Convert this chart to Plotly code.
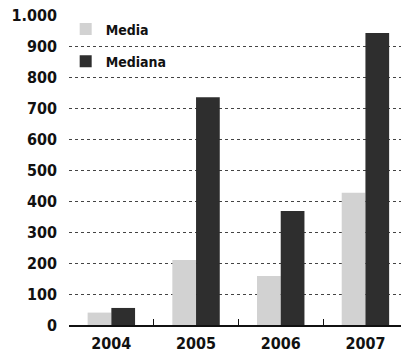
import plotly.graph_objects as go

years = ["2004", "2005", "2006", "2007"]
media = [40, 210, 158, 427]
mediana = [55, 735, 368, 942]
ytick_vals = [0, 100, 200, 300, 400, 500, 600, 700, 800, 900, 1000]
ytick_text = ["0", "100", "200", "300", "400", "500", "600", "700", "800", "900", "1.000"]

FONT = "DejaVu Sans Condensed"

fig = go.Figure()
fig.add_trace(go.Bar(name="Media", x=years, y=media, marker_color="#d2d2d2",
                     marker_line_width=0, legendgroup="a"))
fig.add_trace(go.Bar(name="Mediana", x=years, y=mediana, marker_color="#2e2e2e",
                     marker_line_width=0, legendgroup="b"))

fig.update_layout(
    width=401, height=352,
    margin=dict(l=69, r=0, t=15, b=27),
    paper_bgcolor="white", plot_bgcolor="white",
    barmode="group", bargap=0.44, bargroupgap=0,
    font=dict(family=FONT, size=16, color="#111", weight="bold"),
    showlegend=True,
    legend=dict(x=-0.01, y=1.005, xanchor="left", yanchor="top",
                bgcolor="rgba(0,0,0,0)", font=dict(size=14, family=FONT, weight="bold"),
                traceorder="grouped", tracegroupgap=11, itemwidth=30),
    xaxis=dict(type="category", range=[-0.5, 3.42], showline=True, linecolor="#111",
               linewidth=1.5, ticks="inside", tickson="boundaries", ticklen=6,
               tickcolor="#111", showgrid=False, ticklabelstandoff=3,
               tickfont=dict(size=16, family=FONT, weight="bold")),
    yaxis=dict(range=[0, 1000], tickvals=ytick_vals, ticktext=ytick_text,
               showgrid=True, gridcolor="#444", griddash="dot", gridwidth=1,
               zeroline=False, showline=False, ticks="", ticklabelstandoff=11,
               tickfont=dict(size=16, family=FONT, weight="bold")),
)

fig.write_html("out.html")
